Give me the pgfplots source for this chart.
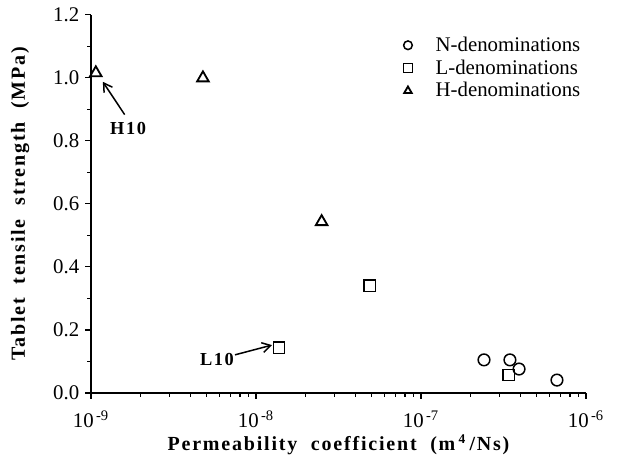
\documentclass[border=0pt]{standalone}
\usepackage{fontspec}
\setmainfont{Liberation Serif}
\newfontfamily\spaced[LetterSpace=9,WordSpace=2]{Liberation Serif}
\usepackage{pgfplots}
\pgfplotsset{compat=1.18}
\usetikzlibrary{arrows.meta}

\begin{document}
\begin{tikzpicture}
% page margins round the axis, in the reference's proportions
\useasboundingbox (-54.6pt,-41.4pt) rectangle (317.4pt,235.8pt);
\begin{axis}[
    scale only axis,
    width=297pt, height=227pt,
    at={(0,0)}, anchor=south west,
    xmode=log,
    xmin=1e-9, xmax=1e-6,
    ymin=0, ymax=1.2,
    axis x line*=bottom,
    axis y line*=left,
    axis line style={line width=0.9pt},
    every tick/.style={black, line width=0.7pt},
    tick align=outside,
    major tick length=3.5pt,
    minor tick length=2.2pt,
    xtick={1e-9,1e-8,1e-7,1e-6},
    xticklabels={10\textsuperscript{\,-9},10\textsuperscript{\,-8},10\textsuperscript{\,-7},10\textsuperscript{\,-6}},
    xticklabel style={yshift=-3.5pt},
    ytick={0,0.2,0.4,0.6,0.8,1.0,1.2},
    minor y tick num=1,
    yticklabel style={/pgf/number format/.cd, fixed, fixed zerofill, precision=1, assume math mode=true},
    tick label style={font=\fontsize{12.5}{13}\selectfont},
    xlabel={\bfseries\spaced Permeability coefficient (m\,\textsuperscript{4}\,/Ns)},
    ylabel={\bfseries\spaced Tablet tensile strength (MPa)},
    xlabel style={at={(axis description cs:0.5,-0.137)}, anchor=center},
    ylabel style={at={(axis description cs:-0.143,0.5)}, anchor=center},
    label style={font=\fontsize{12}{13}\selectfont},
    legend style={draw=none, fill=none, at={(1.006,0.96)}, anchor=north east,
        font=\fontsize{12.5}{13}\selectfont, row sep=-0.5pt,
        /tikz/every odd column/.append style={column sep=12pt}},
    legend image post style={mark size=2.6pt},
    legend cell align=left,
]
\addplot[only marks, mark=o, mark size=3.5pt, line width=0.9pt] coordinates {
    (2.41e-7, 0.105)
    (3.46e-7, 0.105)
    (3.93e-7, 0.076)
    (6.67e-7, 0.041)
};
\addlegendentry{N-denominations}
\addplot[only marks, mark=square, mark size=3.4pt, line width=0.9pt] coordinates {
    (1.38e-8, 0.143)
    (4.9e-8, 0.340)
    (3.4e-7, 0.057)
};
\addlegendentry{L-denominations}
\addplot[only marks, mark=triangle, mark size=4pt, line width=1.1pt] coordinates {
    (1.07e-9, 1.015)
    (4.77e-9, 0.999)
    (2.5e-8, 0.543)
};
\addlegendentry{H-denominations}

\draw[-{Straight Barb[length=5pt,width=6pt]}, line width=0.9pt] (axis cs:1.6e-9,0.883) -- (axis cs:1.18e-9,0.987);
\node[font=\fontsize{11}{12}\selectfont\bfseries\spaced] at (axis cs:1.68e-9,0.84) {H10};
\draw[-{Straight Barb[length=5pt,width=6pt]}, line width=0.9pt] (axis cs:7.46e-9,0.121) -- (axis cs:1.25e-8,0.152);
\node[font=\fontsize{11}{12}\selectfont\bfseries\spaced] at (axis cs:5.8e-9,0.105) {L10};
\end{axis}
\end{tikzpicture}
\end{document}
